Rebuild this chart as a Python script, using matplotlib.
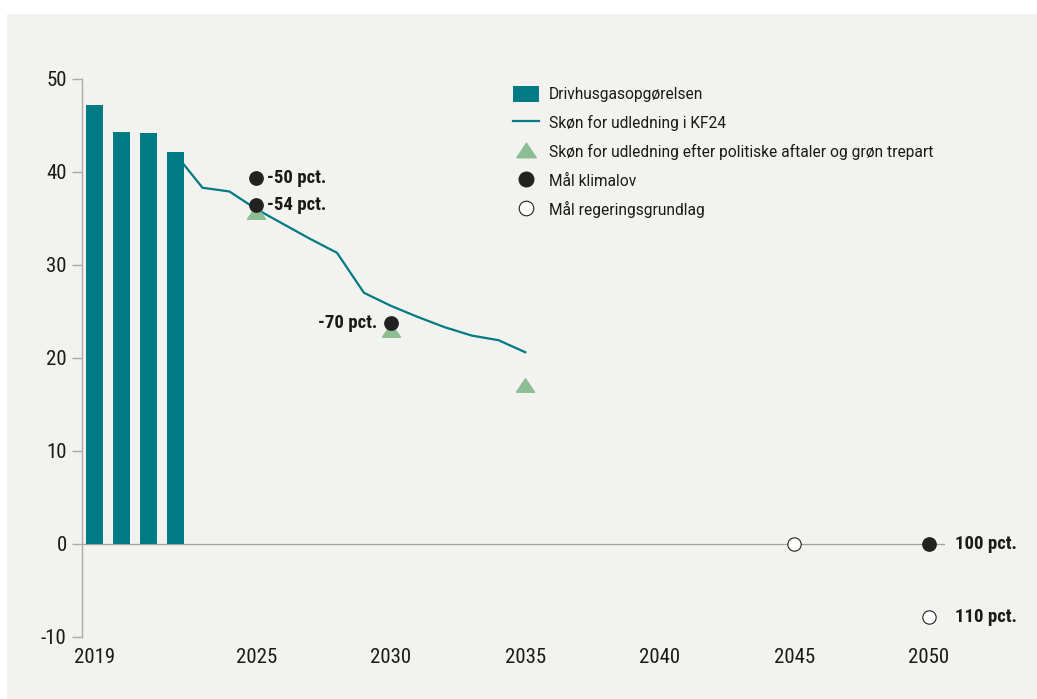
import matplotlib
matplotlib.use("Agg")
import matplotlib.pyplot as plt
from matplotlib import font_manager
from matplotlib.patches import Patch, Rectangle
from matplotlib.lines import Line2D

# data (mio. ton CO2e)
bar_years = [2019, 2020, 2021, 2022]
inventory = [47.2, 44.3, 44.2, 42.1]

kf24_years = list(range(2022, 2036))
kf24 = [41.9, 38.3, 37.9, 36.0, 34.4, 32.8, 31.3, 27.0, 25.6, 24.4, 23.3, 22.4, 21.9, 20.6]

agree_years = [2025, 2030, 2035]
agree = [35.7, 23.0, 17.1]

law_years = [2025, 2025, 2030, 2050]
law = [39.4, 36.4, 23.7, 0.0]
law_labels = ["-50 pct.", "-54 pct.", "-70 pct.", "100 pct."]
law_side = ["r", "r", "l", "rr"]

gov_years = [2045, 2050]
gov = [0.0, -7.9]
gov_labels = ["", "110 pct."]

xticks = [2019, 2025, 2030, 2035, 2040, 2045, 2050]
yticks = [-10, 0, 10, 20, 30, 40, 50]

legend_labels = ["Drivhusgasopgørelsen", "Skøn for udledning i KF24",
                 "Skøn for udledning efter politiske aftaler og grøn trepart",
                 "Mål klimalov", "Mål regeringsgrundlag"]

TEAL = "#007a85"
GREEN = "#8dbd93"
DARK = "#222222"
BG = "#f2f2ee"
TXT = "#1a1a1a"


def pick_font(names):
    for n in names:
        try:
            font_manager.findfont(font_manager.FontProperties(family=n),
                                  fallback_to_default=False)
            return n
        except ValueError:
            continue
    return "DejaVu Sans"


base_font = pick_font(["Roboto", "DejaVu Sans"])
cond_font = pick_font(["Roboto Condensed", "Liberation Sans Narrow", "Roboto"])
plt.rcParams["font.family"] = [base_font, "DejaVu Sans"]
plt.rcParams["axes.unicode_minus"] = False

W, H = 1037, 699
fig = plt.figure(figsize=(W / 100, H / 100), dpi=100)
fig.patch.set_facecolor("white")
fig.patches.append(Rectangle((7 / W, 0), 1, 1 - 14 / H, transform=fig.transFigure,
                             facecolor=BG, edgecolor="none", zorder=-5))

ax = fig.add_axes([82 / W, 1 - 636.7 / H, (945 - 82) / W, (636.7 - 79) / H])
ax.set_facecolor("none")
ax.set_zorder(2)

# triangle marker a bit flatter than '^'
tri = [(-1, -0.75), (1, -0.75), (0, 0.75), (-1, -0.75)]

ax.axhline(0, color="#a0a0a0", lw=0.9, zorder=1)
ax.plot(kf24_years, kf24, color=TEAL, lw=1.6, zorder=2)
ax.bar(bar_years, inventory, width=0.63, color=TEAL, zorder=3)
ax.plot(agree_years, agree, ls="", marker=tri, ms=13, color=GREEN, mec=GREEN, zorder=4)
ax.plot(law_years, law, ls="", marker="o", ms=9.6, color=DARK, mec=DARK, zorder=5)
ax.plot(gov_years, gov, ls="", marker="o", ms=9.6, mfc="white", mec=DARK, mew=0.8, zorder=5)

ann_font = dict(family=[cond_font, "DejaVu Sans"], fontsize=13.5, fontweight="bold", color=TXT)
offsets = {"r": (8, "left"), "l": (-9.5, "right"), "rr": (19, "left")}
for x, y, lab, side in zip(law_years, law, law_labels, law_side):
    dx, ha = offsets[side]
    ax.annotate(lab, (x, y), xytext=(dx, 0), textcoords="offset points",
                ha=ha, va="center", annotation_clip=False, **ann_font)
for x, y, lab in zip(gov_years, gov, gov_labels):
    if lab:
        ax.annotate(lab, (x, y), xytext=(19, 0), textcoords="offset points",
                    ha="left", va="center", annotation_clip=False, **ann_font)

ax.set_xlim(2018.52, 2050.6)
ax.set_ylim(-10, 50)
ax.set_xticks(xticks)
ax.set_yticks(yticks)
for s in ["top", "right", "bottom"]:
    ax.spines[s].set_visible(False)
ax.spines["left"].set_color("#aaaaaa")
ax.spines["left"].set_linewidth(1)
ax.tick_params(axis="y", length=7, width=1, color="#aaaaaa", pad=4,
               labelsize=15, labelcolor=TXT)
ax.tick_params(axis="x", length=0, pad=8, labelsize=15, labelcolor=TXT)
for lab in ax.get_xticklabels() + ax.get_yticklabels():
    lab.set_family([cond_font, "DejaVu Sans"])

handles = [
    Patch(facecolor=TEAL, edgecolor="none"),
    Line2D([], [], color=TEAL, lw=1.6),
    Line2D([], [], ls="", marker=tri, ms=14, color=GREEN, mec=GREEN),
    Line2D([], [], ls="", marker="o", ms=10.5, color=DARK, mec=DARK),
    Line2D([], [], ls="", marker="o", ms=10.5, mfc="white", mec=DARK, mew=0.8),
]
leg = ax.legend(handles, legend_labels, loc="upper left",
                bbox_to_anchor=(513 / W, 1 - 86 / H), bbox_transform=fig.transFigure,
                frameon=False, fontsize=11.2, borderpad=0, borderaxespad=0,
                handlelength=1.7, handleheight=1.25, handletextpad=0.6,
                labelspacing=0.79)
for t in leg.get_texts():
    t.set_color(TXT)

fig.savefig("out.png", dpi=100, facecolor="white")
